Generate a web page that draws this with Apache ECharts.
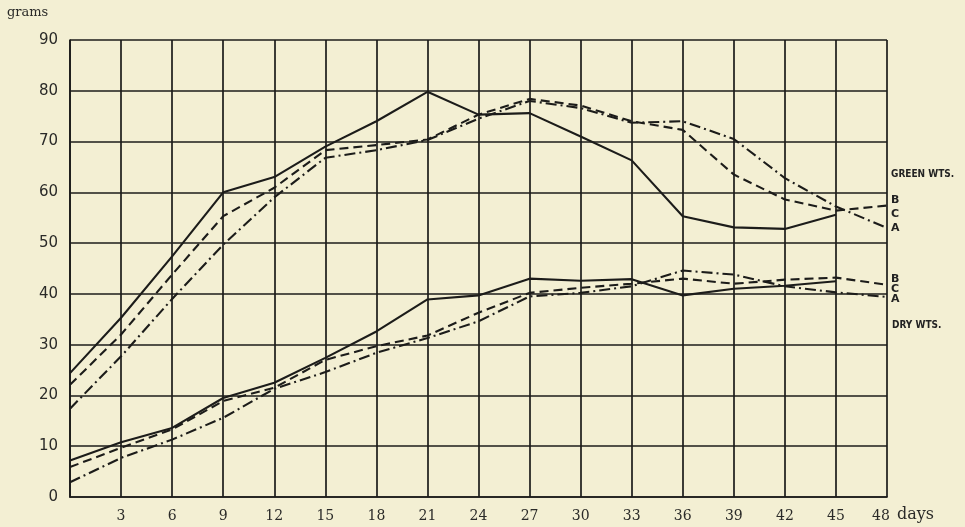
<!DOCTYPE html>
<html>
<head>
<meta charset="utf-8">
<script src="https://cdn.jsdelivr.net/npm/echarts@6/dist/echarts.min.js"></script>
<style>
html,body{margin:0;padding:0;background:#f3efd3;}
#chart{width:965px;height:527px;}
</style>
</head>
<body>
<div id="chart"></div>
<script>
// ---- data ----
const days = [0,3,6,9,12,15,18,21,24,27,30,33,36,39,42,45,48];
const xTickLabels = ['', '3','6','9','12','15','18','21','24','27','30','33','36','39','42','45','48'];
const yTickLabels = ['0','10','20','30','40','50','60','70','80','90'];

// Green weights (grams)
const greenSolid   = [24.4,35.3,47.4,60.0,63.0,69.0,74.0,79.8,75.3,75.6,71.0,66.3,55.3,53.1,52.8,55.6,null];
const greenDashed  = [22.1,32.0,43.8,55.3,60.9,68.3,69.3,70.4,75.3,78.4,77.1,74.0,72.3,63.5,58.6,56.4,57.4];
const greenDashDot = [17.4,27.7,39.0,49.7,59.0,66.8,68.3,70.3,74.5,78.0,76.6,73.7,74.0,70.5,62.8,57.2,53.0];

// Dry weights (grams)
const drySolid   = [7.2,10.8,13.6,19.5,22.5,27.4,32.6,38.9,39.7,43.0,42.6,42.9,39.7,41.0,41.6,42.5,null];
const dryDashed  = [5.9,9.7,13.3,18.9,21.5,27.0,29.7,31.8,36.3,40.2,41.2,42.0,43.0,42.0,42.8,43.2,41.8];
const dryDashDot = [2.9,7.7,11.3,15.6,21.3,24.6,28.4,31.3,34.6,39.5,40.2,41.5,44.6,43.8,41.5,40.3,39.4];

const endLetters = ['B','C','A'];

// ---- chart ----
const ink = '#1c1c1a';
const pair = arr => days.map((d,i) => [d, arr[i]]);
const dashPat = [9,5];
const dashDotPat = [11,4,2,4];

function mk(name, arr, type){
  return {
    name, type:'line', data: pair(arr), symbol:'none', connectNulls:false,
    lineStyle:{color:ink, width:2.1, type:type}, z:5, animation:false
  };
}

const chart = echarts.init(document.getElementById('chart'));
const gridL = 70, gridR = 78, gridT = 40, gridB = 30;

chart.setOption({
  backgroundColor:'#f3efd3',
  animation:false,
  grid:{left:gridL, right:gridR, top:gridT, bottom:gridB},
  xAxis:{
    type:'value', min:0, max:48, interval:3,
    axisLine:{show:true, lineStyle:{color:ink, width:1.7}},
    axisTick:{show:false},
    splitLine:{show:true, lineStyle:{color:ink, width:1.7}},
    axisLabel:{
      color:'#2a2a28', fontFamily:'DejaVu Serif', fontSize:14, margin:12,
      formatter: v => {
        const t = xTickLabels[days.indexOf(v)] || '';
        return v === 48 ? '{e|' + t + '}' : t;
      },
      rich:{e:{fontFamily:'DejaVu Serif', fontSize:14, color:'#2a2a28', padding:[0,12,0,0]}}
    }
  },
  yAxis:{
    type:'value', min:0, max:90, interval:10,
    axisLine:{show:true, lineStyle:{color:ink, width:1.7}},
    axisTick:{show:false},
    splitLine:{show:true, lineStyle:{color:ink, width:1.7}},
    axisLabel:{
      color:'#2a2a28', fontFamily:'DejaVu Sans', fontSize:15, margin:12,
      formatter: v => yTickLabels[Math.round(v/10)]
    }
  },
  series:[
    mk('Green A', greenSolid, 'solid'),
    mk('Green B', greenDashed, dashPat),
    mk('Green C', greenDashDot, dashDotPat),
    mk('Dry A', drySolid, 'solid'),
    mk('Dry B', dryDashed, dashPat),
    mk('Dry C', dryDashDot, dashDotPat)
  ],
  graphic:[
    {type:'text', left:7, top:6, style:{text:'grams', font:'13px "DejaVu Serif"', fill:'#2a2a28'}},
    {type:'text', left:897, top:507, style:{text:'days', font:'16px "DejaVu Serif"', fill:'#2a2a28'}},
    {type:'text', left:891, top:169, style:{text:'GREEN WTS.', font:'bold 10px "Liberation Sans Narrow", "DejaVu Sans Condensed", sans-serif', fill:'#222'}},
    {type:'text', left:892, top:320, style:{text:'DRY WTS.', font:'bold 10px "Liberation Sans Narrow", "DejaVu Sans Condensed", sans-serif', fill:'#222'}},
    {type:'text', left:891, top:193, style:{text:endLetters.join('\n'), font:'bold 11px "DejaVu Sans"', lineHeight:14, fill:'#222'}},
    {type:'text', left:891, top:274, style:{text:endLetters.join('\n'), font:'bold 11px "DejaVu Sans"', lineHeight:10, fill:'#222'}}
  ]
});
</script>
</body>
</html>
